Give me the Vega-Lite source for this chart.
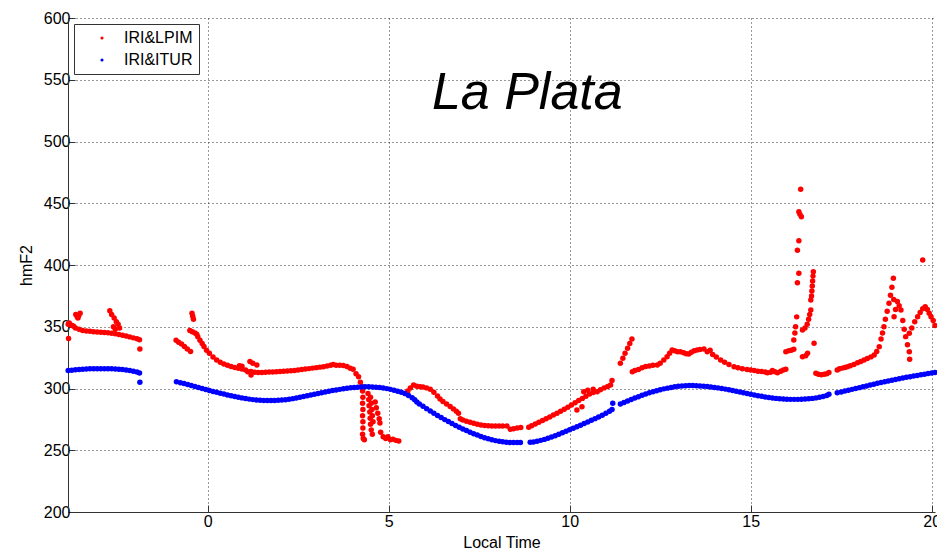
{
"$schema": "https://vega.github.io/schema/vega-lite/v6.json",
"width": 867, "height": 494,
"autosize": {"type": "none"},
"padding": {"left": 68, "top": 18, "right": 2, "bottom": 43},
"background": "white",
"config": {"view": {"stroke": null}, "font": "Liberation Sans"},
"datasets": {
"red": [
{"t":-3.85,"h":352},{"t":-3.82,"h":353},{"t":-3.78,"h":351.5},{"t":-3.74,"h":351},{"t":-3.7,"h":350.5},{"t":-3.84,"h":340.5},
{"t":-3.64,"h":360},{"t":-3.6,"h":358},{"t":-3.56,"h":359},{"t":-3.52,"h":361},{"t":-3.58,"h":357},
{"t":-3.65,"h":349},{"t":-3.55,"h":348},{"t":-3.45,"h":347},{"t":-3.35,"h":346.5},{"t":-3.25,"h":346.3},{"t":-3.15,"h":346},{"t":-3.05,"h":345.8},{"t":-2.95,"h":345.6},{"t":-2.85,"h":345.4},{"t":-2.75,"h":345.2},{"t":-2.65,"h":344.8},{"t":-2.55,"h":344.3},{"t":-2.45,"h":343.8},{"t":-2.35,"h":343.2},{"t":-2.25,"h":342.5},{"t":-2.15,"h":341.8},{"t":-2.05,"h":341},{"t":-1.95,"h":340.2},{"t":-1.88,"h":339.5},{"t":-1.87,"h":332},
{"t":-2.7,"h":363},{"t":-2.65,"h":360},{"t":-2.58,"h":357},{"t":-2.52,"h":354},{"t":-2.47,"h":352},{"t":-2.43,"h":349},{"t":-2.6,"h":350},{"t":-2.55,"h":348},
{"t":-0.87,"h":339},{"t":-0.8,"h":337.5},{"t":-0.72,"h":336},{"t":-0.64,"h":334},{"t":-0.56,"h":332},{"t":-0.47,"h":330},
{"t":-0.43,"h":361},{"t":-0.41,"h":358.5},{"t":-0.39,"h":356},
{"t":-0.49,"h":347},{"t":-0.42,"h":346},{"t":-0.35,"h":345},{"t":-0.3,"h":344},{"t":-0.27,"h":342},
{"t":-0.21,"h":339},{"t":-0.15,"h":336.5},{"t":-0.1,"h":334},{"t":-0.03,"h":331},{"t":0.05,"h":328.5},{"t":0.15,"h":325.5},{"t":0.25,"h":323},{"t":0.35,"h":321.2},{"t":0.45,"h":319.8},{"t":0.55,"h":318.8},{"t":0.65,"h":317.8},{"t":0.75,"h":317},{"t":0.85,"h":316.4},{"t":0.95,"h":315.8},{"t":1.05,"h":315},{"t":1.11,"h":313.6},
{"t":0.88,"h":318.5},{"t":0.95,"h":318},{"t":1.17,"h":321.8},{"t":1.25,"h":320.5},{"t":1.36,"h":319},{"t":1.2,"h":311},
{"t":1.2,"h":313.8},{"t":1.3,"h":313.2},{"t":1.4,"h":313},{"t":1.5,"h":313},{"t":1.6,"h":313.2},{"t":1.7,"h":313.4},{"t":1.8,"h":313.4},{"t":1.9,"h":313.6},{"t":2.0,"h":313.8},{"t":2.1,"h":314},{"t":2.2,"h":314.2},{"t":2.3,"h":314.4},{"t":2.4,"h":314.6},{"t":2.5,"h":315},{"t":2.6,"h":315.4},{"t":2.7,"h":315.8},{"t":2.8,"h":316.1},{"t":2.9,"h":316.5},{"t":3.0,"h":316.9},{"t":3.1,"h":317.3},{"t":3.2,"h":317.7},{"t":3.3,"h":318.2},{"t":3.4,"h":318.8},{"t":3.47,"h":319.5},{"t":3.55,"h":318.9},{"t":3.65,"h":318.9},{"t":3.75,"h":318.6},{"t":3.85,"h":317.8},{"t":3.94,"h":316.4},{"t":4.02,"h":315.5},{"t":4.1,"h":312},{"t":4.17,"h":309.6},{"t":4.22,"h":305},{"t":4.27,"h":301.5},
{"t":4.28,"h":298},{"t":4.29,"h":293},{"t":4.28,"h":288},{"t":4.29,"h":283},{"t":4.28,"h":278},{"t":4.29,"h":273},{"t":4.29,"h":268},{"t":4.28,"h":263},{"t":4.3,"h":259.5},{"t":4.33,"h":258.5},
{"t":4.43,"h":296},{"t":4.45,"h":291},{"t":4.46,"h":286},{"t":4.48,"h":281},{"t":4.49,"h":276},{"t":4.5,"h":271},{"t":4.52,"h":266.5},{"t":4.55,"h":263},
{"t":4.5,"h":293},{"t":4.52,"h":288},{"t":4.54,"h":283},{"t":4.55,"h":278},{"t":4.57,"h":273},
{"t":4.63,"h":289},{"t":4.66,"h":284.5},{"t":4.7,"h":280},{"t":4.74,"h":275.5},{"t":4.76,"h":272},
{"t":4.78,"h":264.5},{"t":4.85,"h":261},{"t":4.92,"h":259.5},{"t":4.98,"h":261},{"t":5.05,"h":258.5},{"t":5.12,"h":259},{"t":5.2,"h":258},{"t":5.28,"h":257.5},
{"t":5.46,"h":296},{"t":5.53,"h":298},{"t":5.6,"h":300.5},{"t":5.69,"h":302.8},{"t":5.78,"h":301.8},{"t":5.87,"h":301.5},{"t":5.95,"h":301.3},{"t":6.05,"h":300.5},{"t":6.15,"h":299.4},{"t":6.25,"h":297},{"t":6.35,"h":294},{"t":6.42,"h":291.5},{"t":6.5,"h":289.5},{"t":6.6,"h":287.5},{"t":6.7,"h":285.5},{"t":6.79,"h":283.5},{"t":6.87,"h":281.5},{"t":6.93,"h":280},{"t":6.98,"h":275.5},{"t":7.05,"h":274.5},{"t":7.15,"h":273.5},{"t":7.25,"h":272.6},{"t":7.35,"h":271.8},{"t":7.45,"h":271},{"t":7.55,"h":270.5},{"t":7.65,"h":270},{"t":7.75,"h":269.8},{"t":7.85,"h":269.6},{"t":7.95,"h":269.6},{"t":8.05,"h":269.6},{"t":8.15,"h":269.7},{"t":8.27,"h":269.6},{"t":8.36,"h":267},{"t":8.45,"h":267.5},{"t":8.55,"h":268},{"t":8.65,"h":268.4},
{"t":8.87,"h":268.6},{"t":8.95,"h":269.8},{"t":9.05,"h":271.2},{"t":9.15,"h":272.6},{"t":9.25,"h":274},{"t":9.35,"h":275.5},{"t":9.45,"h":277},{"t":9.55,"h":278.5},{"t":9.65,"h":280},{"t":9.75,"h":281.6},{"t":9.85,"h":283.2},{"t":9.95,"h":284.9},{"t":10.05,"h":286.7},{"t":10.15,"h":288.5},{"t":10.25,"h":290.3},{"t":10.35,"h":292},{"t":10.45,"h":293.8},{"t":10.55,"h":295.5},{"t":10.65,"h":296.8},{"t":10.76,"h":297.4},{"t":10.85,"h":299},{"t":10.95,"h":300.5},{"t":11.05,"h":301.7},{"t":11.13,"h":302.8},
{"t":10.39,"h":297.4},{"t":10.2,"h":282.6},{"t":10.34,"h":285.3},{"t":11.17,"h":306.4},{"t":10.5,"h":298.5},{"t":10.65,"h":299.5},
{"t":11.4,"h":320.4},{"t":11.47,"h":324.5},{"t":11.53,"h":328.5},{"t":11.6,"h":332.5},{"t":11.66,"h":336.5},{"t":11.72,"h":340},
{"t":11.73,"h":313.6},{"t":11.8,"h":314.5},{"t":11.9,"h":315.3},{"t":12.0,"h":316.8},{"t":12.1,"h":317.8},{"t":12.2,"h":318.3},{"t":12.3,"h":318.8},{"t":12.42,"h":319},{"t":12.5,"h":320.5},{"t":12.6,"h":323},{"t":12.69,"h":325.8},{"t":12.76,"h":328.5},{"t":12.83,"h":331.2},{"t":12.9,"h":330.5},{"t":12.98,"h":329.8},{"t":13.06,"h":329.8},{"t":13.15,"h":329},{"t":13.22,"h":328.2},{"t":13.29,"h":327.9},{"t":13.36,"h":329.3},{"t":13.44,"h":330.5},{"t":13.52,"h":331.2},{"t":13.6,"h":331.5},{"t":13.71,"h":332},{"t":13.8,"h":329.8},{"t":13.88,"h":331},{"t":13.95,"h":327.5},{"t":14.05,"h":325.5},{"t":14.17,"h":323.1},{"t":14.28,"h":321.2},{"t":14.4,"h":319.5},{"t":14.54,"h":317.7},{"t":14.65,"h":316.8},{"t":14.77,"h":316},{"t":14.9,"h":315.4},{"t":15.0,"h":315},{"t":15.1,"h":314.5},{"t":15.2,"h":314},{"t":15.3,"h":313.7},{"t":15.4,"h":313.3},{"t":15.46,"h":312.8},{"t":15.55,"h":313.2},{"t":15.6,"h":314.5},{"t":15.67,"h":313.5},{"t":15.74,"h":312.8},{"t":15.83,"h":314},{"t":15.9,"h":315},{"t":15.97,"h":315.5},
{"t":15.97,"h":329.8},{"t":16.05,"h":330.5},{"t":16.12,"h":331},{"t":16.19,"h":331.7},
{"t":16.38,"h":461.3},{"t":16.33,"h":443.2},{"t":16.36,"h":441},{"t":16.4,"h":439},{"t":16.33,"h":419.7},{"t":16.29,"h":412},{"t":16.33,"h":393.3},{"t":16.29,"h":385.7},{"t":16.27,"h":358},{"t":16.24,"h":350},{"t":16.22,"h":345},{"t":16.19,"h":339.3},
{"t":16.73,"h":394.6},{"t":16.72,"h":391},{"t":16.71,"h":387},{"t":16.7,"h":383},{"t":16.69,"h":379},{"t":16.68,"h":375},{"t":16.66,"h":371.7},{"t":16.66,"h":363.6},{"t":16.63,"h":360},{"t":16.6,"h":356},{"t":16.56,"h":352},{"t":16.5,"h":349},{"t":16.43,"h":347.4},{"t":16.75,"h":336.6},{"t":16.57,"h":328.5},{"t":16.52,"h":326.5},{"t":16.43,"h":325.8},
{"t":16.8,"h":312.3},{"t":16.87,"h":311.5},{"t":16.95,"h":311.2},{"t":17.03,"h":311.5},{"t":17.1,"h":312},{"t":17.16,"h":313},
{"t":17.39,"h":315},{"t":17.45,"h":316},{"t":17.53,"h":316.5},{"t":17.6,"h":317},{"t":17.67,"h":317.7},{"t":17.75,"h":318.5},{"t":17.85,"h":319.5},{"t":17.95,"h":320.8},{"t":18.04,"h":321.8},{"t":18.13,"h":323},{"t":18.22,"h":324.3},{"t":18.32,"h":325.6},{"t":18.41,"h":327.1},{"t":18.48,"h":330},{"t":18.55,"h":333.9},{"t":18.6,"h":340},{"t":18.64,"h":345},{"t":18.68,"h":350},{"t":18.72,"h":356},{"t":18.77,"h":362.5},{"t":18.82,"h":369},{"t":18.86,"h":375.5},{"t":18.9,"h":382},{"t":18.94,"h":389.2},{"t":18.95,"h":372},{"t":18.96,"h":358.1},{"t":19.0,"h":364},{"t":19.05,"h":370.4},{"t":19.1,"h":367},{"t":19.15,"h":363.6},{"t":19.2,"h":355},{"t":19.24,"h":348},{"t":19.28,"h":342},{"t":19.33,"h":335.5},{"t":19.38,"h":329.8},{"t":19.39,"h":323.6},
{"t":19.38,"h":344.7},{"t":19.45,"h":349},{"t":19.53,"h":354},{"t":19.61,"h":358.1},{"t":19.68,"h":361.5},{"t":19.75,"h":364.5},{"t":19.82,"h":366.3},{"t":19.88,"h":364},{"t":19.93,"h":361},{"t":19.98,"h":358.1},{"t":20.04,"h":355},{"t":20.09,"h":351},{"t":19.75,"h":404}
],
"blue": [
{"t":-3.85,"h":314.5},{"t":-3.75,"h":314.8},{"t":-3.65,"h":315.1},{"t":-3.55,"h":315.4},{"t":-3.45,"h":315.6},{"t":-3.35,"h":315.8},{"t":-3.25,"h":315.9},{"t":-3.15,"h":316},{"t":-3.05,"h":316},{"t":-2.95,"h":316},{"t":-2.85,"h":316},{"t":-2.75,"h":316},{"t":-2.65,"h":315.9},{"t":-2.55,"h":315.8},{"t":-2.45,"h":315.6},{"t":-2.35,"h":315.3},{"t":-2.25,"h":315},{"t":-2.15,"h":314.6},{"t":-2.05,"h":314},{"t":-1.95,"h":313.3},{"t":-1.88,"h":312.6},{"t":-1.87,"h":305},
{"t":-0.86,"h":305.5},{"t":-0.75,"h":304.7},{"t":-0.65,"h":304},{"t":-0.55,"h":303.2},{"t":-0.45,"h":302.4},{"t":-0.35,"h":301.6},{"t":-0.25,"h":300.8},{"t":-0.15,"h":300},{"t":-0.05,"h":299.2},{"t":0.05,"h":298.4},{"t":0.15,"h":297.6},{"t":0.25,"h":296.9},{"t":0.35,"h":296.2},{"t":0.45,"h":295.5},{"t":0.55,"h":294.8},{"t":0.65,"h":294.1},{"t":0.75,"h":293.5},{"t":0.85,"h":292.9},{"t":0.95,"h":292.4},{"t":1.05,"h":291.9},{"t":1.15,"h":291.4},{"t":1.25,"h":291},{"t":1.35,"h":290.7},{"t":1.45,"h":290.4},{"t":1.55,"h":290.3},{"t":1.65,"h":290.2},{"t":1.75,"h":290.2},{"t":1.85,"h":290.3},{"t":1.95,"h":290.4},{"t":2.05,"h":290.6},{"t":2.15,"h":290.9},{"t":2.25,"h":291.3},{"t":2.35,"h":291.8},{"t":2.45,"h":292.3},{"t":2.55,"h":292.9},{"t":2.65,"h":293.5},{"t":2.75,"h":294.1},{"t":2.85,"h":294.7},{"t":2.95,"h":295.3},{"t":3.05,"h":295.9},{"t":3.15,"h":296.5},{"t":3.25,"h":297.1},{"t":3.35,"h":297.7},{"t":3.45,"h":298.3},{"t":3.55,"h":298.8},{"t":3.65,"h":299.3},{"t":3.75,"h":299.8},{"t":3.85,"h":300.2},{"t":3.95,"h":300.6},{"t":4.05,"h":300.9},{"t":4.15,"h":301.1},{"t":4.25,"h":301.3},{"t":4.35,"h":301.4},{"t":4.45,"h":301.4},{"t":4.55,"h":301.3},{"t":4.65,"h":301.1},{"t":4.75,"h":300.8},{"t":4.85,"h":300.4},{"t":4.95,"h":299.9},{"t":5.05,"h":299.3},{"t":5.15,"h":298.6},{"t":5.25,"h":297.8},{"t":5.35,"h":296.9},{"t":5.45,"h":296},{"t":5.55,"h":294.4},{"t":5.65,"h":292.6},{"t":5.72,"h":290.8},
{"t":5.78,"h":289},{"t":5.85,"h":287.5},{"t":5.95,"h":285.6},{"t":6.05,"h":283.7},{"t":6.15,"h":281.8},{"t":6.25,"h":280},{"t":6.35,"h":278.2},{"t":6.45,"h":276.5},{"t":6.55,"h":274.8},{"t":6.65,"h":273.2},{"t":6.75,"h":271.6},{"t":6.85,"h":270.1},{"t":6.95,"h":268.6},{"t":7.05,"h":267.2},{"t":7.15,"h":265.9},{"t":7.25,"h":264.6},{"t":7.35,"h":263.4},{"t":7.45,"h":262.3},{"t":7.55,"h":261.2},{"t":7.65,"h":260.2},{"t":7.75,"h":259.3},{"t":7.85,"h":258.5},{"t":7.95,"h":257.8},{"t":8.05,"h":257.2},{"t":8.15,"h":256.8},{"t":8.25,"h":256.5},{"t":8.35,"h":256.3},{"t":8.45,"h":256.2},{"t":8.55,"h":256.2},{"t":8.64,"h":256.3},
{"t":8.91,"h":256.4},{"t":9.0,"h":256.7},{"t":9.1,"h":257.3},{"t":9.2,"h":258},{"t":9.3,"h":258.8},{"t":9.4,"h":259.7},{"t":9.5,"h":260.7},{"t":9.6,"h":261.8},{"t":9.7,"h":263},{"t":9.8,"h":264.2},{"t":9.9,"h":265.4},{"t":10.0,"h":266.6},{"t":10.1,"h":267.8},{"t":10.2,"h":269},{"t":10.3,"h":270.3},{"t":10.4,"h":271.6},{"t":10.5,"h":272.9},{"t":10.6,"h":274.2},{"t":10.7,"h":275.6},{"t":10.8,"h":277},{"t":10.9,"h":278.4},{"t":11.0,"h":279.9},{"t":11.1,"h":281.5},{"t":11.17,"h":283},{"t":11.19,"h":288},
{"t":11.4,"h":287.5},{"t":11.5,"h":288.7},{"t":11.6,"h":289.9},{"t":11.7,"h":291.1},{"t":11.8,"h":292.3},{"t":11.9,"h":293.4},{"t":12.0,"h":294.5},{"t":12.1,"h":295.5},{"t":12.2,"h":296.5},{"t":12.3,"h":297.4},{"t":12.4,"h":298.2},{"t":12.5,"h":299},{"t":12.6,"h":299.7},{"t":12.7,"h":300.3},{"t":12.8,"h":300.9},{"t":12.9,"h":301.4},{"t":13.0,"h":301.8},{"t":13.1,"h":302.1},{"t":13.2,"h":302.3},{"t":13.3,"h":302.4},{"t":13.4,"h":302.4},{"t":13.5,"h":302.3},{"t":13.6,"h":302.1},{"t":13.7,"h":301.9},{"t":13.8,"h":301.6},{"t":13.9,"h":301.3},{"t":14.0,"h":300.9},{"t":14.1,"h":300.5},{"t":14.2,"h":300},{"t":14.3,"h":299.5},{"t":14.4,"h":299},{"t":14.5,"h":298.4},{"t":14.6,"h":297.8},{"t":14.7,"h":297.2},{"t":14.8,"h":296.6},{"t":14.9,"h":296},{"t":15.0,"h":295.4},{"t":15.1,"h":294.8},{"t":15.2,"h":294.2},{"t":15.3,"h":293.7},{"t":15.4,"h":293.2},{"t":15.5,"h":292.7},{"t":15.6,"h":292.3},{"t":15.7,"h":292},{"t":15.8,"h":291.7},{"t":15.9,"h":291.5},{"t":16.0,"h":291.3},{"t":16.1,"h":291.2},{"t":16.2,"h":291.2},{"t":16.3,"h":291.2},{"t":16.4,"h":291.3},{"t":16.5,"h":291.5},{"t":16.6,"h":291.7},{"t":16.7,"h":292},{"t":16.8,"h":292.4},{"t":16.9,"h":292.9},{"t":17.0,"h":293.5},{"t":17.1,"h":294.4},{"t":17.16,"h":295.3},
{"t":17.39,"h":296.5},{"t":17.5,"h":297.2},{"t":17.6,"h":297.9},{"t":17.7,"h":298.6},{"t":17.8,"h":299.3},{"t":17.9,"h":300},{"t":18.0,"h":300.7},{"t":18.1,"h":301.4},{"t":18.2,"h":302.1},{"t":18.3,"h":302.8},{"t":18.4,"h":303.5},{"t":18.5,"h":304.2},{"t":18.6,"h":304.9},{"t":18.7,"h":305.5},{"t":18.8,"h":306.1},{"t":18.9,"h":306.7},{"t":19.0,"h":307.3},{"t":19.1,"h":307.9},{"t":19.2,"h":308.5},{"t":19.3,"h":309.1},{"t":19.4,"h":309.6},{"t":19.5,"h":310.1},{"t":19.6,"h":310.6},{"t":19.7,"h":311.1},{"t":19.8,"h":311.6},{"t":19.9,"h":312.1},{"t":20.0,"h":312.6},{"t":20.09,"h":313}
]
},
"layer": [
{
"data": {"name": "red"},
"transform": [{"calculate": "'IRI&LPIM'", "as": "series"}],
"mark": {"type": "point", "filled": true, "shape": "circle", "size": 30, "opacity": 1},
"encoding": {
"x": {"field": "t", "type": "quantitative", "scale": {"domain": [-3.855, 20.09], "nice": false, "zero": false},
"axis": {"values": [0, 5, 10, 15, 20], "title": "Local Time", "grid": true, "gridColor": "#333", "gridDash": [1, 3], "gridOpacity": 1, "domainColor": "#333", "tickColor": "#333", "tickSize": -7, "labelPadding": 8, "labelFontSize": 16, "labelColor": "black", "titleFontSize": 16, "titleFontWeight": "normal", "titleColor": "black", "titlePadding": 5}},
"y": {"field": "h", "type": "quantitative", "scale": {"domain": [200, 600], "nice": false, "zero": false},
"axis": {"values": [200, 250, 300, 350, 400, 450, 500, 550, 600], "title": "hmF2", "grid": true, "gridColor": "#333", "gridDash": [1, 3], "gridOpacity": 1, "domainColor": "#333", "tickColor": "#333", "tickSize": -7, "labelPadding": 5, "labelFontSize": 16, "labelColor": "black", "titleFontSize": 16, "titleFontWeight": "normal", "titleColor": "black", "titlePadding": 9}},
"color": {"field": "series", "type": "nominal", "scale": {"domain": ["IRI&LPIM", "IRI&ITUR"], "range": ["#ff0000", "#0000ff"]},
"legend": {"title": null, "orient": "none", "legendX": 6, "legendY": 6, "padding": 6, "strokeColor": "#333", "fillColor": "white", "symbolType": "circle", "symbolSize": 10, "symbolOffset": 14, "labelOffset": 14, "labelFontSize": 16, "labelColor": "black", "rowPadding": 6, "symbolStrokeWidth": 0}}
}
},
{
"data": {"name": "blue"},
"transform": [{"calculate": "'IRI&ITUR'", "as": "series"}],
"mark": {"type": "point", "filled": true, "shape": "circle", "size": 30, "opacity": 1},
"encoding": {
"x": {"field": "t", "type": "quantitative"},
"y": {"field": "h", "type": "quantitative"},
"color": {"field": "series", "type": "nominal"}
}
},
{
"data": {"values": [{"label": "La Plata", "t": 8.83, "h": 539}]},
"mark": {"type": "text", "fontSize": 52, "fontStyle": "italic", "font": "Liberation Sans", "color": "black", "align": "center", "baseline": "middle"},
"encoding": {
"x": {"field": "t", "type": "quantitative"},
"y": {"field": "h", "type": "quantitative"},
"text": {"field": "label"}
}
}
]
}
